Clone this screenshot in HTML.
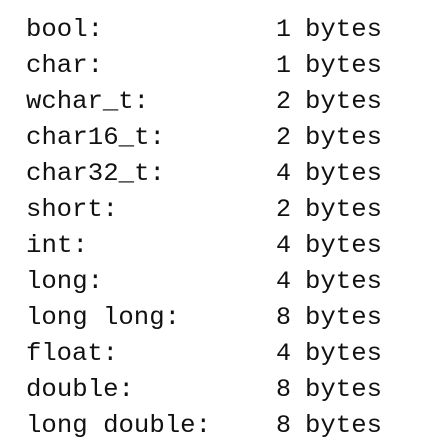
<!DOCTYPE html>
<html><head><meta charset="utf-8"><style>
html,body{margin:0;padding:0;background:#fff;width:436px;height:442px;overflow:hidden}
svg{position:absolute;left:0;top:0}
text{font-family:"Liberation Mono","Courier New",monospace;font-size:25px;fill:#111}
</style></head><body>
<svg width="436" height="442" xmlns="http://www.w3.org/2000/svg">
<g id="n">
<text x="26" y="36" textLength="77" lengthAdjust="spacingAndGlyphs">bool:</text>
<text x="26" y="72" textLength="77" lengthAdjust="spacingAndGlyphs">char:</text>
<text x="26" y="108" textLength="123" lengthAdjust="spacingAndGlyphs">wchar_t:</text>
<text x="26" y="144" textLength="139" lengthAdjust="spacingAndGlyphs">char16_t:</text>
<text x="26" y="180" textLength="139" lengthAdjust="spacingAndGlyphs">char32_t:</text>
<text x="26" y="216" textLength="92" lengthAdjust="spacingAndGlyphs">short:</text>
<text x="26" y="252" textLength="62" lengthAdjust="spacingAndGlyphs">int:</text>
<text x="26" y="288" textLength="77" lengthAdjust="spacingAndGlyphs">long:</text>
<text x="26" y="324" textLength="154" lengthAdjust="spacingAndGlyphs">long long:</text>
<text x="26" y="360" textLength="92" lengthAdjust="spacingAndGlyphs">float:</text>
<text x="26" y="396" textLength="108" lengthAdjust="spacingAndGlyphs">double:</text>
<text x="26" y="432" textLength="185" lengthAdjust="spacingAndGlyphs">long double:</text>
</g>
<g>
<text x="276" y="36">1</text><text x="276" y="72">1</text><text x="276" y="108">2</text><text x="276" y="144">2</text>
<text x="276" y="180">4</text><text x="276" y="216">2</text><text x="276" y="252">4</text><text x="276" y="288">4</text>
<text x="276" y="324">8</text><text x="276" y="360">4</text><text x="276" y="396">8</text><text x="276" y="432">8</text>
</g>
<g>
<text x="305" y="36" textLength="77" lengthAdjust="spacingAndGlyphs">bytes</text>
<text x="305" y="72" textLength="77" lengthAdjust="spacingAndGlyphs">bytes</text>
<text x="305" y="108" textLength="77" lengthAdjust="spacingAndGlyphs">bytes</text>
<text x="305" y="144" textLength="77" lengthAdjust="spacingAndGlyphs">bytes</text>
<text x="305" y="180" textLength="77" lengthAdjust="spacingAndGlyphs">bytes</text>
<text x="305" y="216" textLength="77" lengthAdjust="spacingAndGlyphs">bytes</text>
<text x="305" y="252" textLength="77" lengthAdjust="spacingAndGlyphs">bytes</text>
<text x="305" y="288" textLength="77" lengthAdjust="spacingAndGlyphs">bytes</text>
<text x="305" y="324" textLength="77" lengthAdjust="spacingAndGlyphs">bytes</text>
<text x="305" y="360" textLength="77" lengthAdjust="spacingAndGlyphs">bytes</text>
<text x="305" y="396" textLength="77" lengthAdjust="spacingAndGlyphs">bytes</text>
<text x="305" y="432" textLength="77" lengthAdjust="spacingAndGlyphs">bytes</text>
</g>
</svg>
</body></html>
